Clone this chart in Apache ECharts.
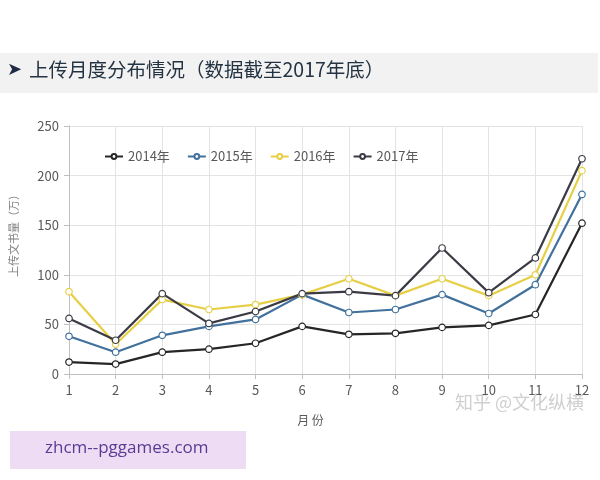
<!DOCTYPE html>
<html lang="zh">
<head>
    <meta charset="UTF-8">
    <title>上传月度分布情况</title>
    <style>
        html, body { margin: 0; padding: 0; background: #fff; }
        #main { width: 600px; height: 480px; }
    </style>
    <script src="https://cdn.jsdelivr.net/npm/echarts@6/dist/echarts.min.js"></script>
</head>
<body>
<div id="main"></div>
<script type="text/javascript">
    // 月份
    var months = ['1', '2', '3', '4', '5', '6', '7', '8', '9', '10', '11', '12'];
    // 各年份上传量（万）
    var y2014 = [12, 10, 22, 25, 31, 48, 40, 41, 47, 49, 60, 152];
    var y2015 = [38, 22, 39, 48, 55, 80, 62, 65, 80, 61, 90, 181];
    var y2016 = [83, 30, 75, 65, 70, 80, 96, 79, 96, 79, 100, 205];
    var y2017 = [56, 34, 81, 51, 63, 81, 83, 79, 127, 82, 117, 217];
    var yearNames = ['2014年', '2015年', '2016年', '2017年'];
    var colors = ['#262626', '#41719c', '#e6cf45', '#3b3b45'];

    var font = '"Noto Sans CJK SC", "Noto Sans", sans-serif';
    var myChart = echarts.init(document.getElementById('main'));

    function mkSeries(name, data, color) {
        return {
            name: name,
            type: 'line',
            data: data,
            symbol: 'circle',
            symbolSize: 6.5,
            lineStyle: { color: color, width: 2.2 },
            itemStyle: { color: '#fff', borderColor: color, borderWidth: 1.2 },
            z: 3
        };
    }

    var option = {
        animation: false,
        color: colors,
        grid: { left: 67, right: 18, top: 126, bottom: 106 },
        legend: {
            top: 145,
            left: 99,
            itemGap: 17,
            itemWidth: 18,
            itemHeight: 6,
            textStyle: { color: '#595959', fontSize: 13, fontFamily: font },
            data: yearNames.map(function (n, i) {
                return { name: n, itemStyle: { color: '#fff', borderColor: colors[i] } };
            })
        },
        xAxis: {
            type: 'category',
            data: months,
            boundaryGap: false,
            name: '月 份',
            nameLocation: 'middle',
            nameGap: 40,
            nameTextStyle: { color: '#595959', fontSize: 12, fontFamily: font, padding: [0, 30, 0, 0] },
            axisLine: { lineStyle: { color: '#bfbfbf' } },
            axisTick: { show: true, alignWithLabel: true, length: 5, lineStyle: { color: '#bfbfbf' } },
            axisLabel: { color: '#595959', fontSize: 13, margin: 10, fontFamily: font },
            splitLine: { show: true, lineStyle: { color: '#e3e3e3' } }
        },
        yAxis: {
            type: 'value',
            min: 0,
            max: 250,
            interval: 50,
            name: '上传文书量（万）',
            nameLocation: 'middle',
            nameRotate: 90,
            nameGap: 50,
            nameTextStyle: { color: '#7f7f7f', fontSize: 11, fontFamily: font, padding: [0, 0, 0, 34] },
            axisLine: { show: true, lineStyle: { color: '#bfbfbf' } },
            axisTick: { show: true, length: 5, lineStyle: { color: '#bfbfbf' } },
            axisLabel: { color: '#595959', fontSize: 13, margin: 10, fontFamily: font },
            splitLine: { lineStyle: { color: '#e3e3e3' } }
        },
        graphic: [
            {
                type: 'rect', left: 0, top: 53, z: -1,
                shape: { width: 598, height: 40 },
                style: { fill: '#f2f2f2' }
            },
            {
                type: 'text', left: 7, top: 61,
                style: { text: '➤', fill: '#1f2a44', fontSize: 18, fontFamily: '"DejaVu Sans", sans-serif' }
            },
            {
                type: 'text', left: 29, top: 60,
                style: { text: '上传月度分布情况（数据截至2017年底）', fill: '#243342', fontSize: 19.5, fontFamily: font }
            },
            {
                type: 'text', left: 454, top: 392,
                style: { text: '知乎 @文化纵横', fill: '#cfcfcf', stroke: '#fff', lineWidth: 2, fontSize: 18, fontFamily: font }
            },
            {
                type: 'rect', left: 10, top: 431,
                shape: { width: 236, height: 38 },
                style: { fill: '#eddcf3' }
            },
            {
                type: 'text', left: 45, top: 440,
                style: { text: 'zhcm--pggames.com', fill: '#5b3a94', fontSize: 17, fontFamily: '"Open Sans", sans-serif' }
            }
        ],
        series: [
            mkSeries(yearNames[0], y2014, colors[0]),
            mkSeries(yearNames[1], y2015, colors[1]),
            mkSeries(yearNames[2], y2016, colors[2]),
            mkSeries(yearNames[3], y2017, colors[3])
        ]
    };

    myChart.setOption(option);
</script>
</body>
</html>
